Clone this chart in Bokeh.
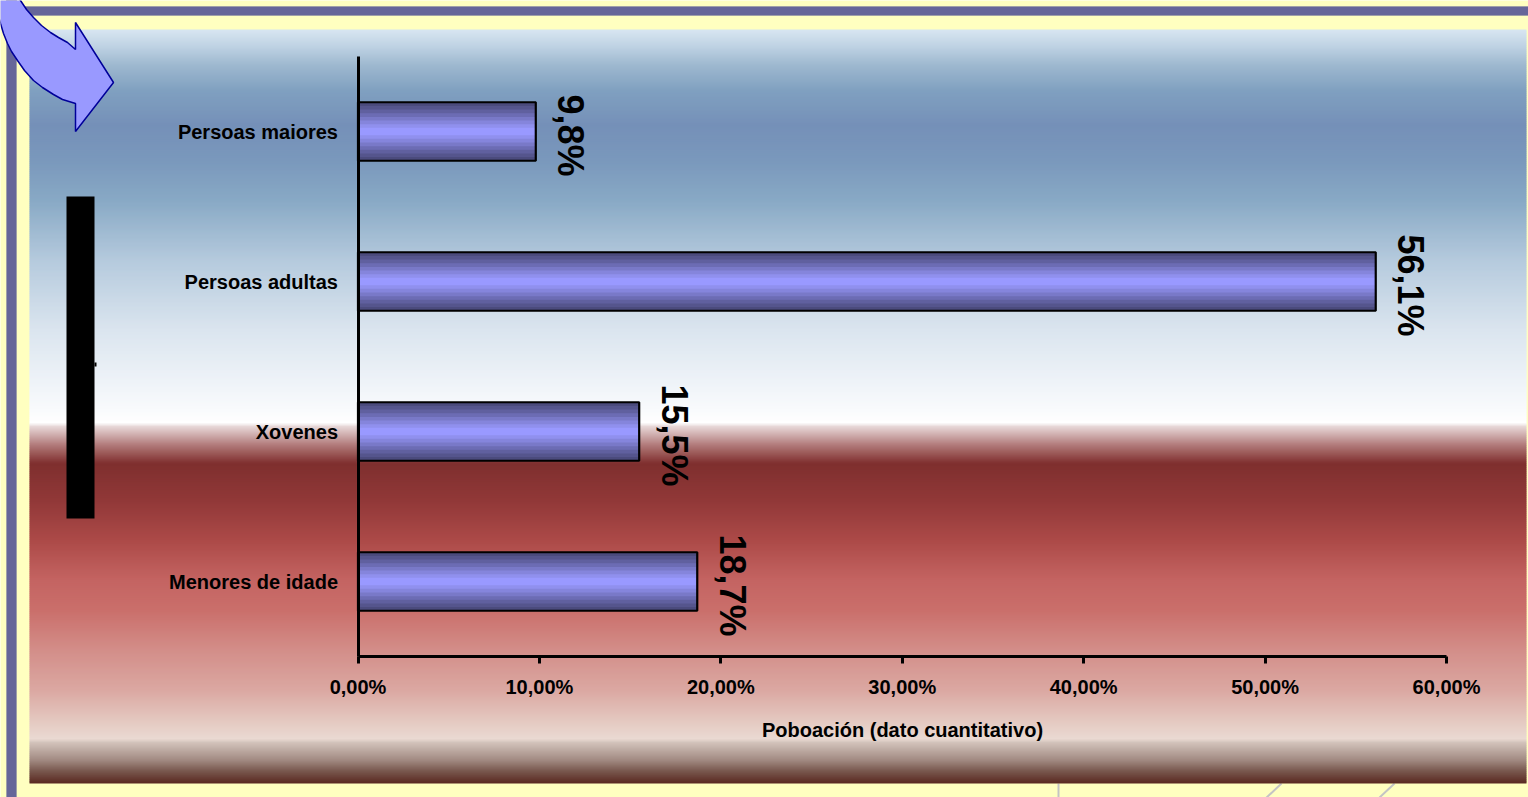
import numpy as np
from bokeh.plotting import figure
from bokeh.models import Range1d, FixedTicker
from bokeh.core.properties import value
from bokeh.embed import file_html
from bokeh.resources import INLINE

# ---------------- data ----------------
categories = ["Menores de idade", "Xovenes", "Persoas adultas", "Persoas maiores"]
shares = [18.7, 15.5, 56.1, 9.8]
share_labels = ["18,7%", "15,5%", "56,1%", "9,8%"]
x_ticks = [0, 10, 20, 30, 40, 50, 60]
x_tick_labels = ["0,00%", "10,00%", "20,00%", "30,00%", "40,00%", "50,00%", "60,00%"]
x_title = "Poboación (dato cuantitativo)"

# ---------------- geometry (pixels of the figure) ----------------
W, H = 1528, 797
X0_PX, X60_PX = 357.5, 1446.0
PX_PER = (X60_PX - X0_PX) / 60.0
XS = -X0_PX / PX_PER
XE = (W - X0_PX) / PX_PER
Y0_PX, PY_PER = 656.0, 150.0
YS = -(H - Y0_PX) / PY_PER
YE = Y0_PX / PY_PER

def rx(px):
    return XS + px / PX_PER

def ry(py):
    return (Y0_PX - py) / PY_PER

FONT = value("Liberation Sans")
YELLOW = "#ffffc0"

p = figure(width=W, height=H, x_range=Range1d(XS, XE), y_range=Range1d(YS, YE),
           output_backend="svg", toolbar_location=None, min_border=0,
           min_border_left=0, min_border_right=0, min_border_top=0, min_border_bottom=0)
p.background_fill_color = YELLOW
p.border_fill_color = YELLOW
p.outline_line_color = None
p.grid.visible = False

# ---------------- decorative frame ----------------
# purple rules (top and left)
p.quad(left=[rx(7)], right=[rx(1540)], top=[ry(6)], bottom=[ry(15)],
       fill_color="#666699", line_color="#a0a0a8", line_width=1)
p.quad(left=[rx(6)], right=[rx(16)], top=[ry(-10)], bottom=[ry(810)],
       fill_color="#666699", line_color="#a0a0a8", line_width=1)

# faint slide lines at the bottom
p.segment(x0=[rx(1058), rx(1265), rx(1378)], y0=[ry(783), ry(798), ry(798)],
          x1=[rx(1058), rx(1281), rx(1394)], y1=[ry(798), ry(783), ry(783)],
          line_color="#c4c4c4", line_width=2)

# gradient panel
stops_y = [29, 45, 65, 90, 125, 160, 200, 260, 330, 400, 423, 425, 445, 463,
           500, 540, 580, 610, 650, 690, 720, 739, 741, 760, 770, 783]
stops_c = ["#d8e6f1", "#c0d3e4", "#9db8cf", "#80a0c0", "#7590b8", "#7a98bc",
           "#88a9c5", "#b5cadd", "#dbe5ef", "#f5f8fb", "#ffffff", "#eadcdc",
           "#b07878", "#7f2f2e", "#913838", "#ac4a48", "#c46462", "#ca6f6b",
           "#d38e89", "#dba8a2", "#e4c8c0", "#eadad3", "#d5c6be", "#a08880",
           "#7a5a50", "#5a2820"]
def hex2rgb(h):
    return [int(h[i:i + 2], 16) for i in (1, 3, 5)]
rgb = np.array([hex2rgb(c) for c in stops_c], dtype=float)
band_top = np.arange(29, 783, 2.0)
band_mid = band_top + 1.0
cols = []
for m in band_mid:
    r = np.interp(m, stops_y, rgb[:, 0])
    g = np.interp(m, stops_y, rgb[:, 1])
    b = np.interp(m, stops_y, rgb[:, 2])
    cols.append("#%02x%02x%02x" % (int(round(r)), int(round(g)), int(round(b))))
p.quad(left=rx(29), right=rx(1526),
       top=[ry(t) for t in band_top],
       bottom=[ry(min(t + 2.8, 783)) for t in band_top],
       fill_color=cols, line_color=None)

# curved arrow (top-left)
arrow_ref = [(75, 49), (75, 22), (113, 82), (75, 131), (75, 103),
             (62, 99), (53, 94), (42, 87), (33, 80), (24, 70), (17, 60),
             (11, 51), (7, 43), (3, 33), (0, 23), (-4, 8), (-8, -10),
             (16, -10), (20, 0), (26, 9), (33, 17), (41, 25), (50, 32),
             (58, 37), (67, 42), (75, 49)]
p.patch([rx(a) for a, b in arrow_ref], [ry(b) for a, b in arrow_ref],
        fill_color="#9999ff", line_color="#000099", line_width=1.5)

# black bar on the left
p.quad(left=[rx(66)], right=[rx(94)], top=[ry(196)], bottom=[ry(518)],
       fill_color="black", line_color=None)
p.quad(left=[rx(94)], right=[rx(96)], top=[ry(362)], bottom=[ry(366)],
       fill_color="black", line_color=None)

# ---------------- bars ----------------
ypos = [i + 0.5 for i in range(len(categories))]
BAR_H = 0.39
layer_cols = ["#4b4b7d", "#55558d", "#60609f", "#6c6cb4", "#7979c8",
              "#8585dc", "#9090ee", "#9999ff"]
for k, c in enumerate(layer_cols):
    frac = 1.0 - k / len(layer_cols)
    p.hbar(y=ypos, left=0, right=shares, height=BAR_H * frac,
           fill_color=c, line_color=None)
p.hbar(y=ypos, left=0, right=shares, height=BAR_H,
       fill_color=None, line_color="black", line_width=2.2)

# value labels, rotated
p.text(x=shares, y=ypos, text=share_labels, angle=-np.pi / 2,
       text_align="center", text_baseline="alphabetic",
       x_offset=35, y_offset=4, text_font=FONT, text_font_style="bold",
       text_font_size="36px", text_color="black")

# ---------------- axes ----------------
xa = p.xaxis[0]
xa.fixed_location = 0
xa.bounds = (0, 60)
xa.ticker = FixedTicker(ticks=x_ticks)
xa.major_label_overrides = dict(zip(x_ticks, x_tick_labels))
xa.axis_line_width = 3
xa.axis_line_color = "black"
xa.major_tick_line_width = 3
xa.major_tick_out = 7
xa.major_tick_in = 0
xa.minor_tick_line_color = None
xa.major_label_text_font = "Liberation Sans"
xa.major_label_text_font_style = "bold"
xa.major_label_text_font_size = "20px"
xa.major_label_text_color = "black"
xa.major_label_standoff = 12
xa.axis_label = x_title
xa.axis_label_text_font = "Liberation Sans"
xa.axis_label_text_font_style = "bold"
xa.axis_label_text_font_size = "20px"
xa.axis_label_text_color = "black"
xa.axis_label_standoff = 18

ya = p.yaxis[0]
ya.fixed_location = 0
ya.bounds = (0, 4)
ya.ticker = FixedTicker(ticks=ypos)
ya.major_label_overrides = dict(zip(ypos, categories))
ya.axis_line_width = 3
ya.axis_line_color = "black"
ya.major_tick_out = 0
ya.major_tick_in = 0
ya.major_tick_line_color = None
ya.minor_tick_line_color = None
ya.major_label_text_font = "Liberation Sans"
ya.major_label_text_font_style = "bold"
ya.major_label_text_font_size = "20px"
ya.major_label_text_color = "black"
ya.major_label_standoff = 20

open("out.html", "w").write(file_html(p, INLINE))
